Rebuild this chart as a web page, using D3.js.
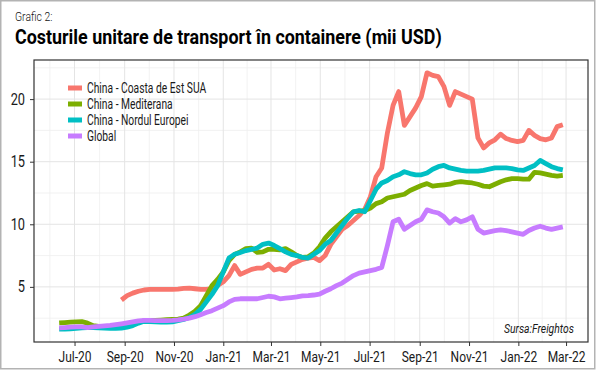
<!DOCTYPE html>
<html>
<head>
<meta charset="utf-8">
<script src="https://cdn.jsdelivr.net/npm/d3@7"></script>
<style>
  body { margin: 0; background: #fff; }
  svg { display: block; font-family: Roboto, "Noto Sans", sans-serif; }
</style>
</head>
<body>
<svg width="600" height="371"></svg>
<script>
// weekly readings, first week 2020-06-12
const startDate = "2020-06-12";

const seriesNames = ["China - Coasta de Est SUA", "China - Mediterana", "China - Nordul Europei", "Global"];
const seriesColors = ["#F8766D", "#7CAE00", "#00BFC4", "#C77CFF"];

const coastaEst = [
  null, null, null, null, null, null, null, null, null, null, null,
  3.95, 4.3, 4.5, 4.65, 4.75, 4.8, 4.8, 4.8, 4.8, 4.8,
  4.82, 4.88, 4.9, 4.85, 4.8, 4.8, 4.85, 5.1, 5.4, 5.9,
  6.7, 6.0, 6.2, 6.4, 6.5, 6.5, 6.8, 6.35, 6.45, 6.3,
  6.8, 7.0, 7.2, 7.3, 7.35, 7.1, 7.5, 8.4, 9.0, 9.6,
  9.9, 10.3, 10.7, 11.2, 12.2, 13.8, 14.5, 17.3, 19.5, 20.6,
  17.9, 18.6, 19.3, 20.2, 22.1, 21.9, 21.8, 21.0, 19.5, 20.6,
  20.4, 20.2, 20.0, 16.9, 16.1, 16.5, 16.75, 17.2, 16.85, 16.7,
  16.6, 16.7, 17.5, 17.1, 16.85, 16.75, 16.9, 17.8, 17.95
];

const mediterana = [
  2.12, 2.15, 2.18, 2.2, 2.22, 2.1, 1.9, 1.85, 1.82, 1.8,
  1.8, 1.82, 1.9, 2.0, 2.15, 2.3, 2.32, 2.32, 2.35, 2.38,
  2.4, 2.42, 2.5, 2.75, 3.05, 3.5, 4.3, 5.1, 5.6, 6.2,
  7.1, 7.6, 7.8, 8.05, 8.1, 7.75, 7.8, 8.0, 8.0, 7.95,
  8.05, 7.8, 7.5, 7.35, 7.4, 7.7, 8.2, 8.9, 9.4, 9.8,
  10.2, 10.6, 11.0, 11.05, 11.1, 11.3, 11.65, 11.8, 12.1, 12.2,
  12.3, 12.4, 12.7, 12.9, 13.1, 13.25, 13.05, 13.1, 13.15, 13.2,
  13.35, 13.4, 13.35, 13.3, 13.2, 13.05, 13.0, 13.2, 13.4, 13.55,
  13.65, 13.65, 13.6, 13.6, 14.15, 14.1, 14.0, 13.9, 13.85, 13.9
];

const nordulEuropei = [
  1.62, 1.62, 1.65, 1.68, 1.72, 1.74, 1.74, 1.72, 1.7, 1.68,
  1.68, 1.7, 1.78, 1.9, 2.1, 2.25, 2.22, 2.2, 2.18, 2.18,
  2.2, 2.3, 2.4, 2.55, 2.8, 3.2, 3.8, 4.4, 5.1, 6.2,
  7.3, 7.6, 7.75, 7.9, 8.0, 8.1, 8.4, 8.5, 8.3, 8.05,
  7.8, 7.6, 7.5, 7.35, 7.3, 7.6, 7.9, 8.4, 8.7, 9.3,
  9.9, 10.5, 11.0, 11.1, 11.0, 11.9, 12.8, 13.3, 13.5, 13.8,
  13.95, 14.2, 14.05, 13.95, 13.95, 14.1, 14.4, 14.6, 14.7, 14.5,
  14.4, 14.3, 14.25, 14.25, 14.25, 14.3, 14.4, 14.5, 14.5, 14.5,
  14.45, 14.35, 14.3, 14.5, 14.7, 15.1, 14.85, 14.6, 14.45, 14.35
];

const global = [
  1.72, 1.75, 1.78, 1.8, 1.8, 1.75, 1.8, 1.85, 1.88, 1.92,
  1.98, 2.05, 2.12, 2.2, 2.28, 2.32, 2.32, 2.3, 2.3, 2.3,
  2.32, 2.36, 2.42, 2.5, 2.62, 2.78, 2.95, 3.1, 3.3, 3.5,
  3.8, 4.0, 4.05, 4.05, 4.05, 4.05, 4.15, 4.25, 4.2, 4.05,
  4.1, 4.15, 4.2, 4.28, 4.3, 4.35, 4.42, 4.65, 4.85, 5.1,
  5.3, 5.6, 5.9, 6.1, 6.2, 6.3, 6.4, 6.55, 8.3, 10.2,
  10.4, 9.6, 9.9, 10.2, 10.4, 11.15, 11.0, 10.9, 10.6, 10.1,
  10.45, 10.2, 10.35, 10.6, 9.6, 9.3, 9.4, 9.5, 9.55, 9.5,
  9.4, 9.3, 9.2, 9.5, 9.7, 9.85, 9.7, 9.6, 9.7, 9.8
];

const xTickDates = ["2020-07-01", "2020-09-01", "2020-11-01", "2021-01-01", "2021-03-01", "2021-05-01",
  "2021-07-01", "2021-09-01", "2021-11-01", "2022-01-01", "2022-03-01"];
const xTickLabels = ["Jul-20", "Sep-20", "Nov-20", "Jan-21", "Mar-21", "May-21",
  "Jul-21", "Sep-21", "Nov-21", "Jan-22", "Mar-22"];
const yTicks = [5, 10, 15, 20];
const yMinor = [2.5, 7.5, 12.5, 17.5, 22.5];

const titleSmall = "Grafic 2:";
const titleMain = "Costurile unitare de transport în containere (mii USD)";
const caption = "Sursa:Freightos";

const svg = d3.select("svg");
const panel = { left: 34, right: 588, top: 60, bottom: 342 };

const seriesValues = [coastaEst, mediterana, nordulEuropei, global];
const t0 = d3.utcParse("%Y-%m-%d")(startDate);
const dates = coastaEst.map((_, i) => d3.utcDay.offset(t0, 7 * i));

// ggplot style 5% expansion
const xExt = d3.extent(dates);
const xPad = (xExt[1] - xExt[0]) * 0.05;
const x = d3.scaleUtc()
  .domain([new Date(+xExt[0] - xPad), new Date(+xExt[1] + xPad)])
  .range([panel.left, panel.right]);

const allVals = seriesValues.flat().filter((v) => v != null);
const yExt = d3.extent(allVals);
const yPad = (yExt[1] - yExt[0]) * 0.05;
const y = d3.scaleLinear()
  .domain([yExt[0] - yPad, yExt[1] + yPad])
  .range([panel.bottom, panel.top]);

// squeeze text horizontally to imitate a condensed face
function squeeze(sel, k) {
  sel.each(function () {
    const t = d3.select(this);
    const ax = +t.attr("x") || 0;
    const ay = +t.attr("y") || 0;
    t.attr("transform", `translate(${ax},${ay}) scale(${k},1) translate(${-ax},${-ay})`);
  });
}

// outer frame
svg.append("rect")
  .attr("x", 0.75).attr("y", 0.75)
  .attr("width", 594).attr("height", 368)
  .attr("fill", "#fff")
  .attr("stroke", "#b3b3b3")
  .attr("stroke-width", 1.5);

// titles
svg.append("text")
  .attr("x", 15).attr("y", 21)
  .attr("font-size", 13)
  .attr("font-weight", 300)
  .attr("fill", "#111")
  .text(titleSmall)
  .call(squeeze, 0.8);

svg.append("text")
  .attr("x", 15).attr("y", 44)
  .attr("font-size", 20)
  .attr("font-weight", 700)
  .attr("fill", "#000")
  .text(titleMain)
  .call(squeeze, 0.895);

// grid
const grid = svg.append("g");
const xTicks = xTickDates.map((d) => d3.utcParse("%Y-%m-%d")(d));
const xExtTicks = [d3.utcMonth.offset(xTicks[0], -2), ...xTicks, d3.utcMonth.offset(xTicks[xTicks.length - 1], 2)];
const xMinor = d3.pairs(xExtTicks, (a, b) => new Date((+a + +b) / 2))
  .filter((d) => x(d) > panel.left && x(d) < panel.right);

grid.selectAll(".xminor").data(xMinor).join("line")
  .attr("x1", (d) => x(d)).attr("x2", (d) => x(d))
  .attr("y1", panel.top).attr("y2", panel.bottom)
  .attr("stroke", "#efefef").attr("stroke-width", 0.8);
grid.selectAll(".yminor").data(yMinor).join("line")
  .attr("x1", panel.left).attr("x2", panel.right)
  .attr("y1", (d) => y(d)).attr("y2", (d) => y(d))
  .attr("stroke", "#efefef").attr("stroke-width", 0.8);
grid.selectAll(".xmajor").data(xTicks).join("line")
  .attr("x1", (d) => x(d)).attr("x2", (d) => x(d))
  .attr("y1", panel.top).attr("y2", panel.bottom)
  .attr("stroke", "#e4e4e4").attr("stroke-width", 1);
grid.selectAll(".ymajor").data(yTicks).join("line")
  .attr("x1", panel.left).attr("x2", panel.right)
  .attr("y1", (d) => y(d)).attr("y2", (d) => y(d))
  .attr("stroke", "#e4e4e4").attr("stroke-width", 1);

// lines
const line = d3.line()
  .defined((d) => d.v != null)
  .x((d) => x(d.date))
  .y((d) => y(d.v));

svg.append("g")
  .selectAll("path")
  .data(seriesValues.map((vals, s) => ({ s, pts: vals.map((v, i) => ({ date: dates[i], v })) })))
  .join("path")
  .attr("d", (d) => line(d.pts))
  .attr("fill", "none")
  .attr("stroke", (d) => seriesColors[d.s])
  .attr("stroke-width", 4.8)
  .attr("stroke-linejoin", "round");

// panel border
svg.append("rect")
  .attr("x", panel.left).attr("y", panel.top)
  .attr("width", panel.right - panel.left).attr("height", panel.bottom - panel.top)
  .attr("fill", "none")
  .attr("stroke", "#333")
  .attr("stroke-width", 1.2);

// axes
const xAxis = svg.append("g")
  .attr("transform", `translate(0,${panel.bottom})`)
  .call(d3.axisBottom(x).tickValues(xTicks).tickFormat((d, i) => xTickLabels[i]).tickSize(4).tickPadding(5));
xAxis.select(".domain").remove();
xAxis.selectAll("line").attr("stroke", "#333");
xAxis.selectAll("text").attr("font-size", 15).attr("fill", "#1a1a1a").attr("font-family", "Roboto").call(squeeze, 0.8);

const yAxis = svg.append("g")
  .attr("transform", `translate(${panel.left},0)`)
  .call(d3.axisLeft(y).tickValues(yTicks).tickSize(4).tickPadding(5));
yAxis.select(".domain").remove();
yAxis.selectAll("line").attr("stroke", "#333");
yAxis.selectAll("text").attr("font-size", 16).attr("fill", "#1a1a1a").attr("font-family", "Roboto").call(squeeze, 0.8);

// legend
const legend = svg.append("g").attr("transform", "translate(68,88)");
const item = legend.selectAll("g").data(seriesNames).join("g")
  .attr("transform", (d, i) => `translate(0,${i * 16})`);
item.append("rect")
  .attr("x", 0).attr("y", -2.5)
  .attr("width", 14).attr("height", 5)
  .attr("fill", (d, i) => seriesColors[i]);
item.append("text")
  .attr("x", 19).attr("y", 0)
  .attr("dy", "0.35em")
  .attr("font-size", 14)
  .attr("fill", "#1a1a1a")
  .text((d) => d)
  .call(squeeze, 0.735);

// source
svg.append("text")
  .attr("x", 574).attr("y", 333)
  .attr("text-anchor", "end")
  .attr("font-size", 13)
  .attr("font-style", "italic")
  .attr("fill", "#1a1a1a")
  .text(caption)
  .call(squeeze, 0.8);
</script>
</body>
</html>
